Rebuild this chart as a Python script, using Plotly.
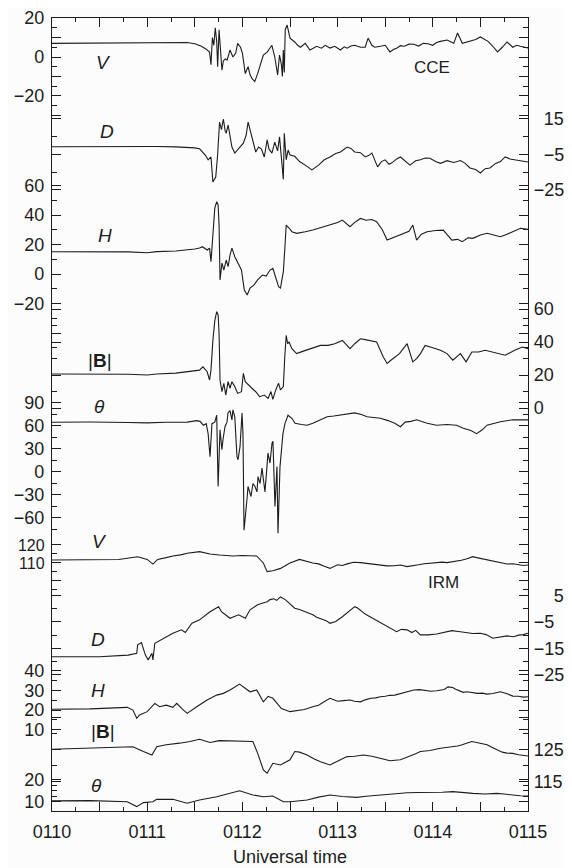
import plotly.graph_objects as go

# ---------------- data (time in minutes after 01:00 UT) ----------------
CCE_V = [(10.0,7.0),(10.3,7.1),(10.6,6.9),(10.9,7.0),(11.1,7.1),(11.3,7.2),(11.42,7.4),(11.5,6.8),(11.57,5.5),
         (11.62,4.0),(11.655,2.5),(11.67,-4.0),(11.685,10.0),(11.7,6.0),(11.715,15.0),(11.73,8.0),(11.74,-5.0),
         (11.755,14.0),(11.77,2.0),(11.785,-6.7),(11.8,-2.0),(11.82,-1.0),(11.84,-1.5),(11.87,3.6),(11.9,0.0),
         (11.93,2.0),(11.95,7.0),(11.98,5.0),(12.0,2.0),(12.02,-4.0),(12.03,-8.5),(12.06,-5.0),(12.08,-9.0),
         (12.1,-11.0),(12.13,-12.6),(12.16,-8.5),(12.19,-3.0),(12.22,1.0),(12.26,2.5),(12.29,4.6),(12.31,6.0),
         (12.34,0.0),(12.37,-9.2),(12.39,1.0),(12.41,-4.0),(12.42,-10.0),(12.43,3.6),(12.44,-8.0),(12.45,14.0),
         (12.47,16.4),(12.49,12.0),(12.5,9.7),(12.55,7.7),(12.58,6.0),(12.61,5.0),(12.66,7.0),(12.71,3.6),
         (12.75,4.8),(12.78,5.5),(12.83,4.5),(12.87,6.0),(12.92,4.6),(12.97,5.5),(13.03,3.6),(13.07,5.2),
         (13.1,4.5),(13.14,5.6),(13.18,6.0),(13.24,5.0),(13.29,5.0),(13.32,9.7),(13.36,6.0),(13.39,5.0),
         (13.45,5.5),(13.5,6.0),(13.55,2.6),(13.59,4.0),(13.62,4.5),(13.66,5.8),(13.7,5.5),(13.75,6.6),
         (13.8,6.5),(13.85,5.6),(13.9,7.0),(13.95,6.8),(14.0,6.0),(14.04,7.4),(14.08,8.0),(14.15,8.7),
         (14.22,7.0),(14.26,12.3),(14.31,7.0),(14.36,7.8),(14.4,8.5),(14.45,9.0),(14.5,10.3),(14.54,9.0),
         (14.58,8.0),(14.63,5.5),(14.68,2.6),(14.73,5.0),(14.78,7.7),(14.84,5.0),(14.88,6.0),(14.92,5.5),(15.0,4.6)]

CCE_D = [(10.0,-0.6),(10.4,-0.5),(10.8,-0.6),(11.1,-0.5),(11.3,-0.7),(11.42,-0.9),(11.5,-1.3),(11.55,-1.8),
         (11.61,-5.3),(11.64,-8.0),(11.67,-6.4),(11.69,-20.5),(11.72,-17.7),(11.74,-5.0),(11.76,13.3),(11.78,9.0),
         (11.8,15.0),(11.82,8.0),(11.83,7.0),(11.85,11.6),(11.87,4.0),(11.89,-0.8),(11.92,-4.2),(11.95,-2.5),
         (11.98,-0.5),(12.01,1.4),(12.04,6.0),(12.06,13.3),(12.08,9.0),(12.1,4.9),(12.12,0.0),(12.14,-3.6),
         (12.17,-0.8),(12.2,-2.0),(12.23,-6.4),(12.26,3.2),(12.28,-2.0),(12.31,-4.2),(12.34,2.0),(12.37,-3.0),
         (12.39,4.9),(12.41,-8.0),(12.43,-19.0),(12.44,7.0),(12.46,-8.0),(12.48,-2.5),(12.5,-5.3),(12.55,-6.0),
         (12.6,-9.0),(12.66,-11.0),(12.73,-13.7),(12.8,-11.0),(12.86,-8.0),(12.92,-6.4),(12.98,-4.5),(13.03,-3.6),
         (13.07,-2.0),(13.1,-0.8),(13.14,-1.6),(13.18,-3.6),(13.24,-4.0),(13.29,-6.4),(13.33,-5.5),(13.36,-4.2),
         (13.42,-12.0),(13.46,-9.0),(13.5,-8.0),(13.54,-10.5),(13.57,-9.7),(13.62,-7.5),(13.66,-6.4),(13.72,-9.0),
         (13.76,-11.0),(13.82,-8.5),(13.87,-8.0),(13.92,-7.0),(13.97,-7.1),(14.03,-9.0),(14.08,-10.0),(14.15,-8.5),
         (14.22,-9.5),(14.29,-8.4),(14.34,-10.0),(14.39,-12.6),(14.45,-13.5),(14.5,-15.4),(14.55,-13.0),
         (14.6,-12.6),(14.66,-10.0),(14.71,-9.0),(14.76,-6.4),(14.81,-7.5),(14.86,-8.0),(14.92,-8.5),(15.0,-9.2)]

CCE_H = [(10.0,15.1),(10.4,15.2),(10.8,15.0),(11.0,14.4),(11.1,15.2),(11.3,15.6),(11.42,16.3),(11.5,17.0),
         (11.55,17.6),(11.58,18.5),(11.63,16.3),(11.655,17.6),(11.67,8.4),(11.69,31.0),(11.71,44.7),(11.73,49.0),
         (11.745,46.8),(11.755,33.0),(11.765,-4.0),(11.785,7.5),(11.805,2.7),(11.83,9.5),(11.85,5.0),(11.87,12.9),
         (11.89,17.6),(11.92,11.7),(11.95,7.5),(11.99,2.7),(12.02,-10.8),(12.05,-14.2),(12.08,-9.5),(12.12,-7.5),
         (12.16,-4.0),(12.21,-0.7),(12.25,-1.4),(12.29,2.7),(12.32,3.8),(12.35,-2.7),(12.38,-8.6),(12.4,-9.5),
         (12.43,1.6),(12.445,16.3),(12.46,33.2),(12.49,31.2),(12.52,28.7),(12.57,27.6),(12.62,28.4),(12.66,28.7),
         (12.74,29.8),(12.8,31.0),(12.85,32.0),(12.9,33.0),(12.95,34.0),(13.0,35.0),(13.05,36.6),(13.13,32.1),
         (13.18,35.0),(13.24,37.7),(13.3,36.5),(13.36,37.0),(13.41,35.5),(13.47,30.0),(13.52,23.0),(13.56,24.0),
         (13.6,25.3),(13.69,27.6),(13.75,29.0),(13.79,33.2),(13.83,23.0),(13.88,27.0),(13.94,28.7),(14.03,29.5),
         (14.11,29.8),(14.16,26.0),(14.2,23.0),(14.26,23.5),(14.31,21.9),(14.37,24.5),(14.42,24.2),(14.5,26.5),
         (14.57,27.6),(14.64,26.5),(14.71,25.3),(14.78,27.0),(14.84,28.7),(14.92,31.0),(15.0,30.3)]

CCE_B = [(10.0,20.6),(10.4,20.7),(10.8,20.5),(11.0,20.0),(11.1,20.6),(11.3,21.2),(11.42,22.0),(11.55,23.0),
         (11.585,25.0),(11.63,22.0),(11.655,17.0),(11.67,23.0),(11.69,41.0),(11.71,53.0),(11.73,58.4),
         (11.745,56.4),(11.755,45.0),(11.765,17.0),(11.785,9.9),(11.805,15.0),(11.825,7.9),(11.85,16.0),
         (11.87,12.0),(11.89,16.0),(11.92,13.0),(11.95,8.9),(11.99,9.9),(12.01,21.0),(12.03,16.0),(12.06,14.0),
         (12.1,12.0),(12.14,9.9),(12.18,6.9),(12.23,7.9),(12.27,5.9),(12.3,10.0),(12.32,5.3),(12.35,11.0),
         (12.38,15.0),(12.4,11.0),(12.43,13.0),(12.445,31.0),(12.46,44.0),(12.475,39.0),(12.49,40.0),(12.52,36.0),
         (12.57,33.0),(12.64,34.5),(12.71,36.0),(12.77,37.0),(12.82,38.0),(12.9,38.0),(12.97,39.0),(13.05,41.0),
         (13.13,36.0),(13.18,39.0),(13.24,42.0),(13.29,41.5),(13.34,41.0),(13.41,40.0),(13.48,31.0),(13.52,27.0),
         (13.56,29.0),(13.6,31.0),(13.65,33.0),(13.69,36.0),(13.73,39.0),(13.79,28.0),(13.83,30.0),(13.87,33.0),
         (13.92,38.0),(14.0,36.5),(14.08,35.0),(14.15,33.0),(14.21,29.0),(14.29,33.0),(14.35,28.0),(14.41,34.0),
         (14.48,34.0),(14.55,35.0),(14.63,34.0),(14.71,33.0),(14.76,32.0),(14.86,35.0),(14.94,37.0),(15.0,36.0)]

CCE_TH = [(10.0,64.8),(10.4,65.2),(10.8,64.6),(11.0,64.0),(11.2,64.8),(11.42,65.0),(11.52,67.0),(11.555,66.0),
          (11.59,61.0),(11.62,63.0),(11.64,50.0),(11.66,20.0),(11.68,63.0),(11.71,65.0),(11.73,74.0),
          (11.745,-19.0),(11.765,55.0),(11.785,29.0),(11.796,42.0),(11.817,59.0),(11.838,65.0),(11.849,77.0),
          (11.87,80.0),(11.89,68.0),(11.9,81.0),(11.92,72.0),(11.943,20.0),(11.954,16.0),(11.975,33.0),
          (11.996,77.0),(12.006,50.0),(12.017,-76.0),(12.048,-36.0),(12.059,-19.0),(12.09,-32.0),(12.111,-15.0),
          (12.132,-19.0),(12.153,-26.0),(12.164,-6.0),(12.185,-15.0),(12.206,5.0),(12.216,-6.0),(12.237,-26.0),
          (12.258,7.0),(12.269,24.6),(12.29,11.6),(12.311,37.6),(12.321,40.0),(12.342,-45.0),(12.363,7.0),
          (12.374,-80.0),(12.395,7.0),(12.416,37.6),(12.426,50.0),(12.447,63.0),(12.468,70.0),(12.479,74.0),
          (12.52,70.0),(12.553,63.5),(12.62,62.0),(12.68,61.0),(12.74,63.5),(12.82,68.0),(12.89,72.0),
          (12.96,73.0),(13.03,74.0),(13.1,75.0),(13.18,77.0),(13.25,75.0),(13.31,72.0),(13.38,71.0),(13.45,70.0),
          (13.53,67.0),(13.6,63.5),(13.66,59.0),(13.71,65.0),(13.77,66.0),(13.83,68.0),(13.94,63.5),(14.04,61.0),
          (14.15,62.0),(14.25,61.0),(14.32,57.0),(14.4,54.0),(14.46,50.0),(14.52,55.0),(14.57,61.0),(14.64,63.0),
          (14.71,65.6),(14.84,68.0),(15.0,68.0)]

IRM_V = [(10.0,111.7),(10.4,111.8),(10.7,111.9),(10.9,113.5),(11.0,112.0),(11.06,109.4),(11.11,112.0),
         (11.2,113.0),(11.27,113.9),(11.35,114.5),(11.42,115.4),(11.55,116.3),(11.66,115.0),(11.76,114.4),
         (11.9,113.9),(12.0,114.2),(12.15,113.9),(12.22,110.0),(12.26,105.2),(12.32,105.7),(12.4,107.0),
         (12.5,110.0),(12.6,112.0),(12.74,110.0),(12.8,109.5),(12.86,108.2),(12.92,107.0),(13.0,109.0),
         (13.05,108.6),(13.1,109.5),(13.17,110.4),(13.24,110.2),(13.3,109.8),(13.35,109.5),(13.4,109.2),
         (13.45,108.9),(13.52,108.4),(13.6,108.5),(13.66,108.9),(13.73,108.0),(13.79,108.3),(13.85,109.0),
         (13.91,109.6),(13.97,110.0),(14.04,110.2),(14.1,110.5),(14.15,110.2),(14.21,110.7),(14.26,111.0),
         (14.3,111.5),(14.36,112.4),(14.42,113.5),(14.46,113.0),(14.5,112.5),(14.57,111.7),(14.62,111.0),
         (14.68,110.5),(14.73,110.0),(14.78,109.4),(14.84,109.6),(14.9,109.2),(14.95,108.6),(15.0,108.9)]

IRM_D = [(10.0,-18.2),(10.5,-18.2),(10.8,-17.6),(10.89,-16.9),(10.9,-13.7),(10.94,-12.8),(10.98,-17.5),
         (11.01,-19.4),(11.05,-16.9),(11.06,-19.4),(11.08,-13.1),(11.11,-12.5),(11.2,-10.6),(11.27,-9.3),
         (11.36,-8.0),(11.4,-9.0),(11.47,-5.5),(11.55,-4.2),(11.66,-1.1),(11.75,0.8),(11.78,-1.1),(11.87,-3.6),
         (11.96,-2.3),(12.03,-3.6),(12.08,-0.4),(12.16,1.5),(12.2,2.0),(12.26,2.7),(12.29,3.5),(12.33,3.8),
         (12.36,3.2),(12.4,4.5),(12.45,3.5),(12.5,2.0),(12.55,0.2),(12.6,-0.3),(12.65,-1.0),(12.7,-1.8),
         (12.74,-2.3),(12.78,-3.2),(12.83,-4.0),(12.88,-4.5),(12.92,-5.5),(12.98,-4.8),(13.05,-3.0),(13.1,-1.5),
         (13.14,-0.2),(13.18,0.8),(13.21,0.3),(13.25,-1.0),(13.29,-2.0),(13.34,-3.0),(13.39,-4.0),(13.45,-5.5),
         (13.5,-6.2),(13.55,-7.5),(13.58,-8.0),(13.62,-8.7),(13.67,-7.8),(13.73,-8.0),(13.78,-9.0),(13.82,-8.2),
         (13.87,-9.9),(13.95,-9.9),(14.04,-9.6),(14.1,-9.2),(14.15,-8.8),(14.2,-8.3),(14.27,-8.6),(14.36,-9.0),
         (14.42,-9.4),(14.5,-9.3),(14.56,-9.8),(14.63,-11.2),(14.7,-10.8),(14.78,-10.3),(14.85,-10.6),
         (14.9,-10.0),(14.95,-9.8),(15.0,-9.3)]

IRM_H = [(10.0,20.4),(10.4,20.6),(10.79,21.4),(10.85,20.0),(10.89,15.8),(10.92,17.5),(11.0,19.2),(11.08,23.4),
         (11.13,21.7),(11.2,22.5),(11.27,21.4),(11.31,23.4),(11.37,20.5),(11.42,18.3),(11.52,21.7),(11.63,25.1),
         (11.73,27.6),(11.8,28.5),(11.87,30.2),(11.97,33.2),(12.08,29.3),(12.15,30.2),(12.22,24.2),(12.27,27.0),
         (12.32,26.0),(12.41,20.8),(12.5,19.2),(12.6,20.0),(12.65,20.3),(12.74,21.7),(12.8,22.5),(12.85,24.0),
         (12.92,26.0),(12.96,25.3),(13.0,24.5),(13.06,24.8),(13.13,25.1),(13.18,24.5),(13.24,24.2),(13.29,25.2),
         (13.35,26.0),(13.4,26.2),(13.45,26.8),(13.5,27.0),(13.55,27.5),(13.6,27.6),(13.66,28.5),(13.72,29.0),
         (13.8,30.2),(13.86,30.4),(13.92,30.0),(13.98,29.6),(14.04,29.8),(14.08,30.2),(14.12,30.5),(14.16,31.8),
         (14.21,31.5),(14.24,30.6),(14.28,30.0),(14.32,29.0),(14.36,29.3),(14.41,29.0),(14.47,28.5),(14.52,28.6),
         (14.57,28.1),(14.63,28.4),(14.71,29.3),(14.78,28.3),(14.84,27.1),(14.9,27.0),(14.95,26.6),(15.0,26.8)]

IRM_B = [(10.0,125.2),(10.5,125.8),(10.85,126.0),(10.96,124.5),(11.05,123.4),(11.1,126.0),(11.2,126.6),
         (11.34,127.1),(11.45,127.6),(11.55,128.3),(11.66,127.3),(11.76,127.9),(11.9,127.8),(12.11,127.6),
         (12.16,124.0),(12.22,118.75),(12.26,117.7),(12.32,120.8),(12.4,120.3),(12.5,121.9),(12.55,124.5),
         (12.6,124.3),(12.68,123.4),(12.75,122.2),(12.82,121.3),(12.87,120.8),(12.92,120.3),(12.96,120.9),
         (13.0,121.5),(13.05,122.3),(13.1,122.9),(13.18,123.0),(13.27,123.4),(13.36,123.0),(13.45,122.4),
         (13.55,121.6),(13.66,121.9),(13.72,122.6),(13.77,123.0),(13.82,123.8),(13.87,124.5),(13.97,124.8),
         (14.08,125.5),(14.15,125.7),(14.21,126.0),(14.26,126.2),(14.3,126.5),(14.35,126.9),(14.41,127.6),
         (14.46,127.3),(14.5,127.0),(14.57,126.6),(14.62,125.8),(14.68,125.0),(14.73,124.3),(14.78,124.0),
         (14.84,123.9),(14.9,123.5),(14.95,123.2),(15.0,123.1)]

IRM_TH = [(10.0,10.5),(10.4,10.6),(10.79,10.1),(10.89,7.9),(10.96,9.7),(11.06,10.1),(11.1,11.2),(11.27,11.2),
          (11.42,9.4),(11.55,10.9),(11.73,12.4),(11.87,14.0),(11.97,15.1),(12.11,13.2),(12.22,12.4),(12.32,12.7),
          (12.43,10.1),(12.5,10.1),(12.68,10.9),(12.8,12.2),(12.92,13.2),(13.05,12.5),(13.12,12.4),(13.2,12.1),
          (13.3,12.6),(13.45,13.2),(13.6,13.7),(13.73,14.2),(13.85,14.3),(13.97,14.2),(14.1,14.4),(14.21,14.7),
          (14.3,14.3),(14.42,13.9),(14.55,13.6),(14.67,13.9),(14.75,13.6),(14.84,13.0),(14.92,12.8),(15.0,12.7)]

X_TICKS = [10, 11, 12, 13, 14, 15]
X_TICK_LABELS = ["0110", "0111", "0112", "0113", "0114", "0115"]
PANEL_LABELS = ["V", "D", "H", "|<b>B</b>|", "θ", "V", "D", "H", "|<b>B</b>|", "θ"]
STATION_LABELS = ["CCE", "IRM"]

# ---------------- axis layout ----------------
# (series, side, range, major ticks, labelled ticks, minor ticks, label position, tick font size)
AXES = [
    (CCE_V,  "left",  [-386.7, 20.0],  [20, 10, 0, -10, -20, -30], [20, 0, -20], [15, 5, -5, -15, -25], (10.54, -2.6), 18),
    (CCE_D,  "right", [-374.9, 71.9],  [15, -5, -25], [15, -5, -25], [5, -15], (10.58, 7.7), 18),
    (CCE_H,  "left",  [-364.1, 173.6], [60, 40, 20, 0, -20, -40], [60, 40, 20, 0, -20], [50, 30, 10, -10, -30, -50], (10.56, 26.4), 18),
    (CCE_B,  "right", [-244.2, 236.4], [60, 40, 20, 0], [60, 40, 20, 0], [50, 30, 10], (10.50, 29.0), 18),
    (CCE_TH, "left",  [-442.2, 592.1], [90, 60, 30, 0, -30, -60], [90, 60, 30, 0, -30, -60], [75, 45, 15, -15, -45, -75], (10.50, 84.8), 18),
    (IRM_V,  "left",  [-27.8, 412.8],  [120, 110, 100], [120, 110], [115, 105, 95], (10.50, 121.7), 16),
    (IRM_D,  "right", [-76.8, 224.4],  [5, -5, -15, -25], [5, -5, -15, -25], [0, -10, -20], (10.48, -11.8), 18),
    (IRM_H,  "left",  [-31.3, 371.8],  [40, 30, 20, 10], [40, 30, 20, 10], [35, 25, 15], (10.48, 30.2), 18),
    (IRM_B,  "right", [105.9, 353.75], [135, 125, 115], [125, 115], [130, 120], (10.54, 130.9), 18),
    (IRM_TH, "left",  [5.9, 366.4],    [20, 10], [20, 10], [17.5, 15, 12.5], (10.47, 17.7), 18),
]
# right-hand labels that sit right-aligned in the original (padded with figure spaces)
RIGHT_PAD = {(1, 15): 1, (1, -5): 1, (6, 5): 2}

INK = "#1c1c1c"
FONT = "Liberation Sans, Arial, Helvetica, sans-serif"


def tick_text(i, v, labelled):
    if v not in labelled:
        return ""
    s = str(v).replace("-", "−")
    return "\u2007" * RIGHT_PAD.get((i, v), 0) + s


fig = go.Figure()
layout_axes = {}
annotations = []
for i, (series, side, rng, major, labelled, minor, lab, fsize) in enumerate(AXES):
    n = i + 1
    yname = "y" if n == 1 else f"y{n}"
    lname = "yaxis" if n == 1 else f"yaxis{n}"
    pts = sorted(series)
    fig.add_trace(go.Scatter(x=[p[0] for p in pts], y=[p[1] for p in pts],
                             mode="lines", line=dict(color=INK, width=1.1),
                             yaxis=yname, xaxis="x", showlegend=False, hoverinfo="skip"))
    ax = dict(range=rng, side=side, anchor="x", showgrid=False, zeroline=False,
              showline=True, linecolor=INK, linewidth=1.4, mirror="ticks",
              ticks="inside", ticklen=9, tickwidth=1.2, tickcolor=INK,
              tickmode="array", tickvals=major,
              ticktext=[tick_text(i, v, labelled) for v in major],
              tickfont=dict(family=FONT, size=fsize, color=INK),
              ticklabelstandoff=3 if side == "left" else 1,
              minor=dict(tickmode="array", tickvals=minor, ticks="inside", ticklen=5,
                         tickwidth=1.1, tickcolor=INK, showgrid=False),
              fixedrange=True, automargin=False)
    if n > 1:
        ax["overlaying"] = "y"
    layout_axes[lname] = ax
    annotations.append(dict(x=lab[0], y=lab[1], xref="x", yref=yname, text=PANEL_LABELS[i],
                            showarrow=False, font=dict(family=FONT, size=19, color=INK,
                                                       style="italic" if i not in (3, 8) else "normal")))

annotations.append(dict(x=13.99, y=-5.6, xref="x", yref="y", text=STATION_LABELS[0], showarrow=False,
                        font=dict(family=FONT, size=17, color=INK)))
annotations.append(dict(x=14.11, y=98.9, xref="x", yref="y6", text=STATION_LABELS[1], showarrow=False,
                        font=dict(family=FONT, size=17, color=INK)))
annotations.append(dict(x=0.5, y=-0.058, xref="paper", yref="paper", yanchor="middle", xanchor="center",
                        text="Universal time", showarrow=False,
                        font=dict(family=FONT, size=18, color=INK)))

x_major = [10 + 0.5 * k for k in range(11)]
# the page body adds an 8 px offset, so the figure is sized 8 px smaller than the window
fig.update_layout(
    width=564, height=860,
    margin=dict(l=44, r=44, t=10, b=57),
    paper_bgcolor="#fdfcfd", plot_bgcolor="#fdfcfd",
    xaxis=dict(range=[10, 15], showgrid=False, zeroline=False, showline=True, linecolor=INK,
               linewidth=1.4, mirror="ticks", ticks="inside", ticklen=9, tickwidth=1.2, tickcolor=INK,
               tickmode="array", tickvals=x_major,
               ticktext=[X_TICK_LABELS[X_TICKS.index(int(v))] if v in X_TICKS else "" for v in x_major],
               tickfont=dict(family=FONT, size=18, color=INK), ticklabelstandoff=4,
               minor=dict(tickmode="array", tickvals=[10.25 + 0.5 * k for k in range(10)], ticks="inside",
                          ticklen=4, tickwidth=1.1, tickcolor=INK, showgrid=False),
               fixedrange=True, automargin=False),
    annotations=annotations,
    **layout_axes,
)

fig.write_html("out.html")
